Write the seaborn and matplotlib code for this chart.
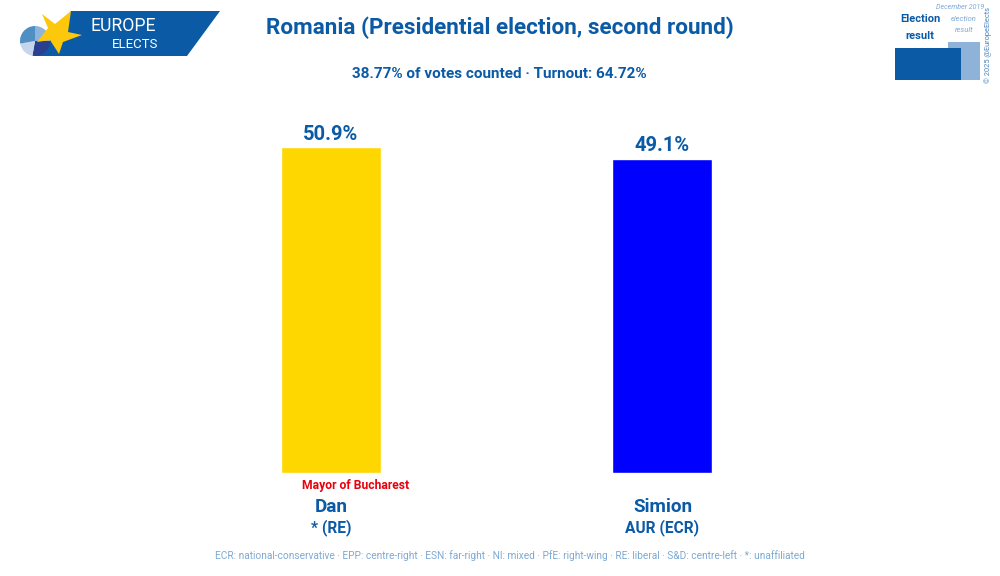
import matplotlib
matplotlib.use("Agg")
import matplotlib.pyplot as plt
from matplotlib.patches import Polygon, Wedge, Rectangle
import pandas as pd
import seaborn as sns

candidates = ["Dan", "Simion"]
parties = ["* (RE)", "AUR (ECR)"]
shares = [50.9, 49.1]
share_labels = ["50.9%", "49.1%"]
bar_colors = ["#FFD700", "#0000FF"]

title = "Romania (Presidential election, second round)"
subtitle = "38.77% of votes counted · Turnout: 64.72%"
note = "Mayor of Bucharest"
glossary = ("ECR: national-conservative · EPP: centre-right · ESN: far-right · NI: mixed · "
            "PfE: right-wing · RE: liberal · S&D: centre-left · *: unaffiliated")

BLUE = "#0b5aa6"
PALE = "#7fa9d3"
FONT = ["Roboto", "DejaVu Sans"]

sns.set_theme(style="white")
plt.rcParams["font.family"] = FONT

fig = plt.figure(figsize=(10, 5.76), dpi=100, facecolor="white")

# overlay in pixel coords for logo and text
bg = fig.add_axes([0, 0, 1, 1])
bg.set_xlim(0, 1000)
bg.set_ylim(576, 0)
bg.axis("off")

# bars
ax = fig.add_axes([165.5 / 1000, 1 - 473 / 576, 662 / 1000, 373 / 576])
df = pd.DataFrame({"candidate": candidates, "share": shares})
sns.barplot(data=df, x="candidate", y="share", hue="candidate", palette=bar_colors,
            width=0.3, saturation=1, legend=False, ax=ax)
ax.set_xlim(-0.5, 1.5)
ax.set_ylim(0, 58.3)
ax.axis("off")
ax.patch.set_alpha(0)
for i, lab in enumerate(share_labels):
    ax.text(i, shares[i] + 0.6, lab, ha="center", va="bottom", color=BLUE,
            fontsize=14.5, fontweight="bold")

# logo
bg.add_patch(Polygon([(71, 11), (220, 11), (187, 56), (35, 56)], color="#0b5aa6", lw=0))
for t1, t2, c in [(-90, 0, "#8fb4dc"), (0, 100, "#2a3f8f"), (100, 170, "#c5d6ec"), (170, 270, "#4f8fc4")]:
    bg.add_patch(Wedge((35, 41), 15, t1, t2, color=c, lw=0))
bg.add_patch(Polygon([(42, 14), (55, 24), (71, 11), (68, 32), (82, 35), (63, 42),
                      (59, 54), (50, 40), (37, 42), (48, 28)], color="#fdc70c", lw=0))
bg.text(90, 26, "EUROPE", color="white", fontsize=12.7, va="center", ha="left")
bg.text(112, 45, "ELECTS", color="white", fontsize=9.5, va="center", ha="left")

# headings
bg.text(499.5, 28, title, color=BLUE, fontsize=16.2, fontweight="bold", ha="center", va="center")
bg.text(499.5, 74, subtitle, color=BLUE, fontsize=11, fontweight="bold", ha="center", va="center")

# corner inset
bg.add_patch(Rectangle((948, 42), 32, 38, color="#8fb2d9", lw=0))
bg.add_patch(Rectangle((895, 48), 66, 32, color="#0b5aa6", lw=0))
bg.text(920, 19, "Election", color=BLUE, fontsize=8, fontweight="bold", ha="center", va="center")
bg.text(920, 36, "result", color=BLUE, fontsize=8, fontweight="bold", ha="center", va="center")
bg.text(960, 7, "December 2019", color=PALE, fontsize=5, style="italic", ha="center", va="center")
bg.text(964, 19, "election", color=PALE, fontsize=5.5, style="italic", ha="center", va="center")
bg.text(964, 30, "result", color=PALE, fontsize=5.5, style="italic", ha="center", va="center")
bg.text(988, 45, "© 2025 @EuropeElects", color=BLUE, alpha=0.75, fontsize=5.3, rotation=90, ha="center", va="center")

# candidate labels
bg.text(356, 485, note, color="#e8000b", fontsize=8.7, fontweight="bold", ha="center", va="center")
for x, name, party in zip([331.5, 662.5], candidates, parties):
    bg.text(x, 507, name, color=BLUE, fontsize=13.6, fontweight="bold", ha="center", va="center")
    bg.text(x, 528, party, color=BLUE, fontsize=11.2, fontweight="bold", ha="center", va="center")
bg.text(510, 556, glossary, color=PALE, fontsize=7.3, ha="center", va="center")

fig.savefig("out.png", dpi=100)
